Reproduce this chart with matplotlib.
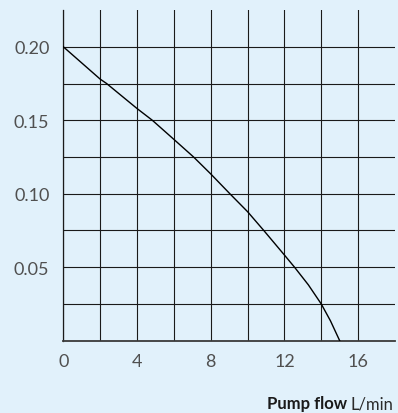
import matplotlib
matplotlib.use('Agg')
import matplotlib.pyplot as plt

# pump curve: flow (L/min) vs head
flow = [0, 2, 2.35, 4, 4.83, 6, 7.07, 8, 9.04, 10, 10.88, 12, 12.55, 13.3, 14, 14.5, 15]
head = [0.200, 0.178, 0.175, 0.158, 0.150, 0.137, 0.125, 0.1135, 0.100, 0.0878,
        0.075, 0.0583, 0.050, 0.038, 0.025, 0.0135, 0.0]

x_ticks = [0, 4, 8, 12, 16]
x_minor = [2, 6, 10, 14]
y_ticks = [0.05, 0.10, 0.15, 0.20]
y_minor = [0.025, 0.075, 0.125, 0.175]

bg = '#e1f1fb'
plt.rcParams['font.family'] = ['Lato', 'DejaVu Sans']

fig = plt.figure(figsize=(3.98, 4.14), dpi=100, facecolor=bg)
ax = fig.add_axes([0.159, 0.1746, 0.8334, 0.7988], facecolor=bg)

ax.plot(flow, head, color='black', lw=1.0, zorder=3)

ax.set_xlim(0, 18)
ax.set_ylim(0, 0.225)
ax.set_xticks(x_ticks)
ax.set_xticks(x_minor, minor=True)
ax.set_yticks(y_ticks)
ax.set_yticks(y_minor, minor=True)
ax.set_xticklabels([str(t) for t in x_ticks])
ax.set_yticklabels(['%.2f' % t for t in y_ticks])
ax.grid(True, which='both', color='#1a1a1a', lw=0.8)
ax.tick_params(which='both', length=0, labelsize=13, colors='#505050')
ax.tick_params(axis='x', pad=9)
ax.tick_params(axis='y', pad=10)

for s in ['top', 'right']:
    ax.spines[s].set_visible(False)
ax.spines['left'].set_color('#1a1a1a')
ax.spines['left'].set_linewidth(0.9)
ax.spines['bottom'].set_color('#3a3a3a')
ax.spines['bottom'].set_linewidth(1.3)

# axis title: bold name + regular unit, right aligned
fig.canvas.draw()
r = fig.canvas.get_renderer()
unit = fig.text(0.9874, 0.0114, 'L/min', ha='right', va='baseline',
                fontsize=12, color='#2a2a2a')
w = unit.get_window_extent(renderer=r).width / fig.bbox.width
fig.text(0.9874 - w - 0.008, 0.0114, 'Pump flow', ha='right', va='baseline',
         fontsize=12, fontweight='bold', color='#1a1a1a')

fig.savefig('out.png', dpi=100, facecolor=bg)
